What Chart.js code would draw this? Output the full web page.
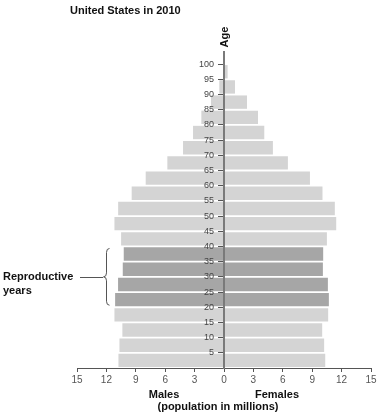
<!DOCTYPE html>
<html>
<head>
<meta charset="utf-8">
<script src="https://cdn.jsdelivr.net/npm/chart.js@4.4.1/dist/chart.umd.min.js"></script>
<style>
  html, body { margin: 0; padding: 0; background: #ffffff; }
  #wrap { width: 382px; height: 417px; position: relative; }
</style>
</head>
<body>
<div id="wrap"><canvas id="c" width="382" height="417"></canvas></div>
<script>
// Age groups (lower bound of each 5-year band)
const ageGroups = [0, 5, 10, 15, 20, 25, 30, 35, 40, 45, 50, 55, 60, 65, 70, 75, 80, 85, 90, 95];
// Population in millions (males plotted to the left, hence negative)
const males = [-10.77, -10.67, -10.37, -11.18, -11.11, -10.81, -10.33, -10.23, -10.5, -11.18,
               -10.8, -9.42, -7.99, -5.78, -4.18, -3.16, -2.31, -1.33, -0.48, -0.1];
const females = [10.33, 10.22, 10.02, 10.63, 10.7, 10.6, 10.09, 10.12, 10.5, 11.45,
                 11.31, 10.05, 8.77, 6.52, 4.99, 4.11, 3.47, 2.35, 1.12, 0.37];
// Reproductive years band
const reproductiveFrom = 20;
const reproductiveTo = 39;
const xTickValues = [-15, -12, -9, -6, -3, 0, 3, 6, 9, 12, 15];
const yTickLabels = [5, 10, 15, 20, 25, 30, 35, 40, 45, 50, 55, 60, 65, 70, 75, 80, 85, 90, 95, 100];

const LIGHT = '#d4d4d4';
const DARK = '#a6a6a6';
const colors = ageGroups.map(a => (a >= reproductiveFrom && a <= reproductiveTo) ? DARK : LIGHT);

const toPoints = vals => vals.map((v, i) => ({ x: v, y: ageGroups[i] + 2.5 }));

const FONT = '"Liberation Sans", Arial, Helvetica, sans-serif';
const NARROW = '"Liberation Sans Narrow", "Liberation Sans", Arial, sans-serif';

const annotations = {
  id: 'annotations',
  afterDraw(chart) {
    const ctx = chart.ctx;
    const xs = chart.scales.x;
    const ys = chart.scales.y;
    const x0 = xs.getPixelForValue(0);
    ctx.save();
    ctx.fillStyle = '#111';
    ctx.font = 'bold 11px ' + FONT;
    ctx.textBaseline = 'middle';
    ctx.textAlign = 'left';
    ctx.fillText('United States in 2010', 70, 11);
    // Age label, rotated
    ctx.save();
    ctx.translate(x0 + 1, 37);
    ctx.rotate(-Math.PI / 2);
    ctx.textAlign = 'center';
    ctx.fillText('Age', 0, 0);
    ctx.restore();
    // bottom labels
    ctx.textAlign = 'center';
    ctx.fillText('Males', 164, 395);
    ctx.fillText('Females', 277, 395);
    ctx.fillText('(population in millions)', 218, 407);
    // Reproductive years
    const yTop = ys.getPixelForValue(reproductiveTo + 1);
    const yBot = ys.getPixelForValue(reproductiveFrom);
    const yMid = (yTop + yBot) / 2;
    ctx.textAlign = 'left';
    ctx.fillText('Reproductive', 3, yMid);
    ctx.fillText('years', 3, yMid + 14);
    // bracket
    ctx.strokeStyle = '#555';
    ctx.lineWidth = 1;
    ctx.beginPath();
    ctx.moveTo(80, Math.round(yMid) + 0.5);
    ctx.lineTo(103, Math.round(yMid) + 0.5);
    ctx.stroke();
    const bx = 106.5;
    ctx.beginPath();
    ctx.moveTo(bx + 3, yTop + 2);
    ctx.quadraticCurveTo(bx, yTop + 2, bx, yTop + 6);
    ctx.lineTo(bx, yMid - 4);
    ctx.quadraticCurveTo(bx, yMid, bx - 3, yMid);
    ctx.quadraticCurveTo(bx, yMid, bx, yMid + 4);
    ctx.lineTo(bx, yBot - 6);
    ctx.quadraticCurveTo(bx, yBot - 2, bx + 3, yBot - 2);
    ctx.stroke();
    ctx.restore();
  }
};

new Chart(document.getElementById('c'), {
  type: 'bar',
  data: {
    datasets: [
      { label: 'Males', data: toPoints(males), backgroundColor: colors, borderWidth: 0 },
      { label: 'Females', data: toPoints(females), backgroundColor: colors, borderWidth: 0 }
    ]
  },
  options: {
    responsive: false,
    animation: false,
    indexAxis: 'y',
    categoryPercentage: 1.0,
    barPercentage: 0.88,
    layout: { padding: { left: 77, right: 11, top: 52, bottom: 0 } },
    plugins: { legend: { display: false }, tooltip: { enabled: false }, title: { display: false } },
    scales: {
      x: {
        type: 'linear',
        min: -15, max: 15,
        stacked: true,
        afterBuildTicks: s => { s.ticks = xTickValues.map(v => ({ value: v })); },
        afterFit: s => { s.height = 49; s.paddingLeft = 0; s.paddingRight = 0; },
        ticks: {
          callback: v => String(Math.abs(v)),
          color: '#555',
          font: { family: NARROW, size: 10 },
          padding: 2,
          maxRotation: 0,
          autoSkip: false
        },
        grid: { drawOnChartArea: false, drawTicks: true, tickLength: 4, tickColor: '#555', tickWidth: 1 },
        border: { display: true, color: '#555', width: 1 }
      },
      y: {
        type: 'linear',
        position: { x: 0 },
        min: 0, max: 104,
        offset: false,
        stacked: true,
        afterBuildTicks: s => { s.ticks = yTickLabels.map(v => ({ value: v })); },
        afterFit: s => { s.width = 0; s.paddingTop = 0; s.paddingBottom = 0; },
        ticks: {
          // trailing spaces keep the right-aligned label clear of the tick mark
          callback: v => String(v) + '    ',
          color: '#444',
          font: { family: FONT, size: 9 },
          padding: 1,
          autoSkip: false,
          z: 2
        },
        grid: { offset: false, drawOnChartArea: false, drawTicks: true, tickLength: 5, tickColor: '#555', tickWidth: 1, z: 2 },
        border: { display: true, color: '#7a7a7a', width: 2, z: 2 }
      }
    }
  },
  plugins: [annotations]
});
</script>
</body>
</html>
